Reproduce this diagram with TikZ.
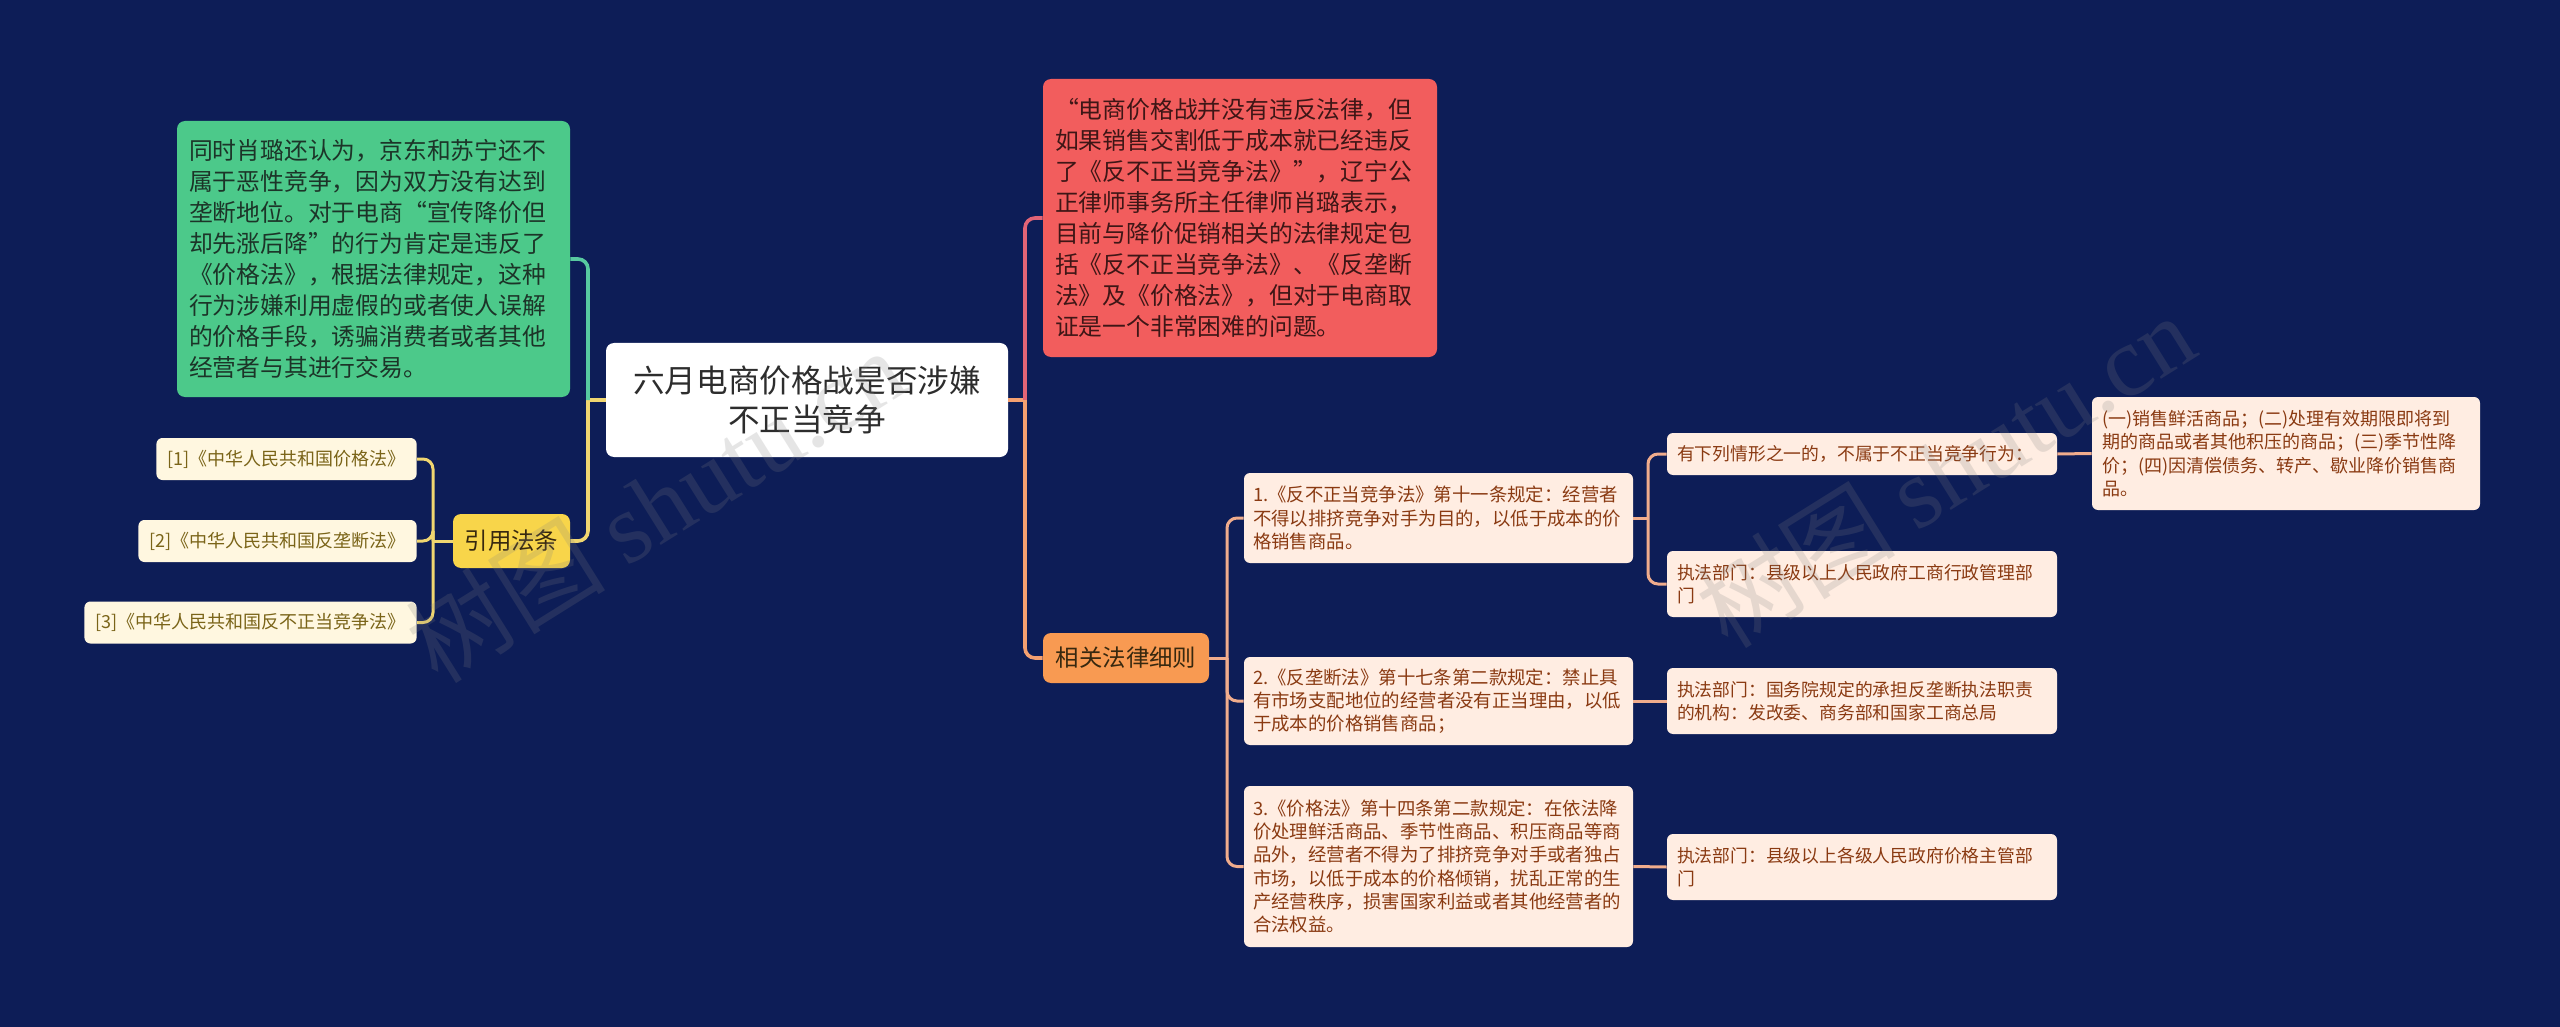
\documentclass[tikz,border=0pt]{standalone}
\usepackage{fontspec}
\setmainfont{Noto Sans CJK SC}
\newfontfamily\stampfont{Liberation Serif}
\usetikzlibrary{calc,positioning}

\definecolor{bgnavy}{RGB}{13,29,87}
\definecolor{rootink}{RGB}{45,45,45}
\definecolor{greenfill}{RGB}{76,201,138}
\definecolor{greenink}{RGB}{28,52,40}
\definecolor{redfill}{RGB}{242,93,93}
\definecolor{redink}{RGB}{62,22,22}
\definecolor{yelfill}{RGB}{248,213,74}
\definecolor{orfill}{RGB}{248,154,82}
\definecolor{darkink}{RGB}{55,40,15}
\definecolor{creamfill}{RGB}{255,247,224}
\definecolor{creamink}{RGB}{122,100,24}
\definecolor{peachfill}{RGB}{255,237,226}
\definecolor{peachink}{RGB}{138,58,18}
\definecolor{lgreen}{RGB}{88,201,160}
\definecolor{lyel}{RGB}{240,214,112}
\definecolor{lred}{RGB}{226,100,118}
\definecolor{lorange}{RGB}{244,160,112}
\definecolor{lpeach}{RGB}{240,172,140}

\begin{document}
\begin{tikzpicture}[x=0.5pt,y=-0.5pt]

\tikzset{box/.style = {rounded corners=4pt, inner ysep=0pt, align=left}}
\tikzset{topic/.style = {box, fill=white, text=rootink, align=center, inner xsep=5pt, text width=190pt, minimum width=201pt, minimum height=57pt, font=\fontsize{15.8}{19.5}\selectfont}}
\tikzset{note/.style = {box, inner xsep=6pt, font=\fontsize{11.9}{15.5}\selectfont}}
\tikzset{branch/.style = {box, align=center, text=darkink, inner xsep=3pt, minimum height=26pt, font=\fontsize{11.7}{14}\selectfont}}
\tikzset{cite/.style = {box, rounded corners=3pt, fill=creamfill, text=creamink, anchor=east, inner xsep=5.5pt, minimum height=21pt, font=\fontsize{9}{11}\selectfont}}
\tikzset{leaf/.style = {box, rounded corners=3pt, fill=peachfill, text=peachink, inner xsep=4.5pt, text width=185.5pt, font=\fontsize{9.2}{11.65}\selectfont}}
\tikzset{subleaf/.style = {box, rounded corners=3pt, fill=peachfill, text=peachink, inner xsep=5pt, text width=185pt, font=\fontsize{8.9}{11.65}\selectfont}}
\tikzset{edge/.style = {line width=1.8pt, rounded corners=5pt}}
\tikzset{edgethin/.style = {line width=1.5pt, rounded corners=5pt, draw=lpeach}}
\tikzset{stamp/.style = {text=gray, opacity=0.2, rotate=32, font=\fontsize{50}{50}\selectfont}}

% background
\fill[bgnavy] (0,0) rectangle (2560,1027);

% vertices
\node[topic] (root) at (807,400) {六月电商价格战是否涉嫌\\不正当竞争};

\node[note, fill=greenfill, text=greenink, text width=184.5pt, minimum height=138pt] (green) at (373.5,259)
  {同时肖璐还认为，京东和苏宁还不\\属于恶性竞争，因为双方没有达到\\垄断地位。对于电商“宣传降价但\\却先涨后降”的行为肯定是违反了\\《价格法》，根据法律规定，这种\\行为涉嫌利用虚假的或者使人误解\\的价格手段，诱骗消费者或者其他\\经营者与其进行交易。};

\node[note, fill=redfill, text=redink, text width=185pt, minimum height=139pt] (red) at (1240,218)
  {“电商价格战并没有违反法律，但\\如果销售交割低于成本就已经违反\\了《反不正当竞争法》”，辽宁公\\正律师事务所主任律师肖璐表示，\\目前与降价促销相关的法律规定包\\括《反不正当竞争法》、《反垄断\\法》及《价格法》，但对于电商取\\证是一个非常困难的问题。};

\node[branch, fill=yelfill, minimum width=58.5pt, minimum height=27pt] (yin) at (511.5,541) {引用法条};
\node[cite] (r1) at (417,459) {[1]《中华人民共和国价格法》};
\node[cite] (r2) at (417,541) {[2]《中华人民共和国反垄断法》};
\node[cite] (r3) at (417,622.5) {[3]《中华人民共和国反不正当竞争法》};

\node[branch, fill=orfill, minimum width=83pt, minimum height=25pt] (law) at (1126,658) {相关法律细则};

\node[leaf, minimum height=45pt] (item1) at (1438.5,518)
  {1.《反不正当竞争法》第十一条规定：经营者\\不得以排挤竞争对手为目的，以低于成本的价\\格销售商品。};
\node[leaf, minimum height=44pt] (item2) at (1438.5,701)
  {2.《反垄断法》第十七条第二款规定：禁止具\\有市场支配地位的经营者没有正当理由，以低\\于成本的价格销售商品；};
\node[leaf, minimum height=80.5pt] (item3) at (1438.5,866.5)
  {3.《价格法》第十四条第二款规定：在依法降\\价处理鲜活商品、季节性商品、积压商品等商\\品外，经营者不得为了排挤竞争对手或者独占\\市场，以低于成本的价格倾销，扰乱正常的生\\产经营秩序，损害国家利益或者其他经营者的\\合法权益。};

\node[subleaf, minimum height=21pt] (a1) at (1862,454) {有下列情形之一的，不属于不正当竞争行为：};
\node[subleaf, minimum height=33pt] (a2) at (1862,584) {执法部门：县级以上人民政府工商行政管理部\\门};
\node[subleaf, text width=184pt, font=\fontsize{9}{11.65}\selectfont, minimum height=56.5pt] (c1) at (2286,453.5)
  {(一)销售鲜活商品；(二)处理有效期限即将到\\期的商品或者其他积压的商品；(三)季节性降\\价；(四)因清偿债务、转产、歇业降价销售商\\品。};
\node[subleaf, minimum height=33pt] (b1) at (1862,701) {执法部门：国务院规定的承担反垄断执法职责\\的机构：发改委、商务部和国家工商总局};
\node[subleaf, minimum height=33pt] (d1) at (1862,867) {执法部门：县级以上各级人民政府价格主管部\\门};

% junctions
\coordinate (jl) at (588,400);
\coordinate (jr) at (1025,400);
\coordinate (jy) at (433,541);
\coordinate (jlaw) at (1227,658);
\coordinate (j1) at (1648,518);

%edges
\draw[edge, draw=lyel] (root.west) -- (jl);
\draw[edge, draw=lyel] (jl) |- (yin.east);
\draw[edge, draw=lgreen] (jl) |- (green.east);

\draw[edge, draw=lorange] (root.east) -- (jr);
\draw[edge, draw=lred] (jr) |- (red.west);
\draw[edge, draw=lorange] (jr) |- (law.west);

\draw[edgethin, draw=lyel] (yin.west) -- (jy);
\draw[edgethin, draw=lyel] (jy) |- (r1.east);
\draw[edgethin, draw=lyel] (jy) |- (r2.east);
\draw[edgethin, draw=lyel] (jy) |- (r3.east);

\draw[edgethin] (law.east) -- (jlaw);
\draw[edgethin] (jlaw) |- (item1.west);
\draw[edgethin] (jlaw) |- (item2.west);
\draw[edgethin] (jlaw) |- (item3.west);

\draw[edgethin] (item1.east) -- (j1);
\draw[edgethin] (j1) |- (a1.west);
\draw[edgethin] (j1) |- (a2.west);
\draw[edgethin] (a1.east) -- (c1.west);
\draw[edgethin] (item2.east) -- (b1.west);
\draw[edgethin] (item3.east) -- (d1.west);

% watermarks
\node[stamp] (mark1) at (655,505) {树图 {\stampfont shutu.cn}};
\node[stamp] (mark2) at (1945,470) {树图 {\stampfont shutu.cn}};

\end{tikzpicture}
\end{document}
